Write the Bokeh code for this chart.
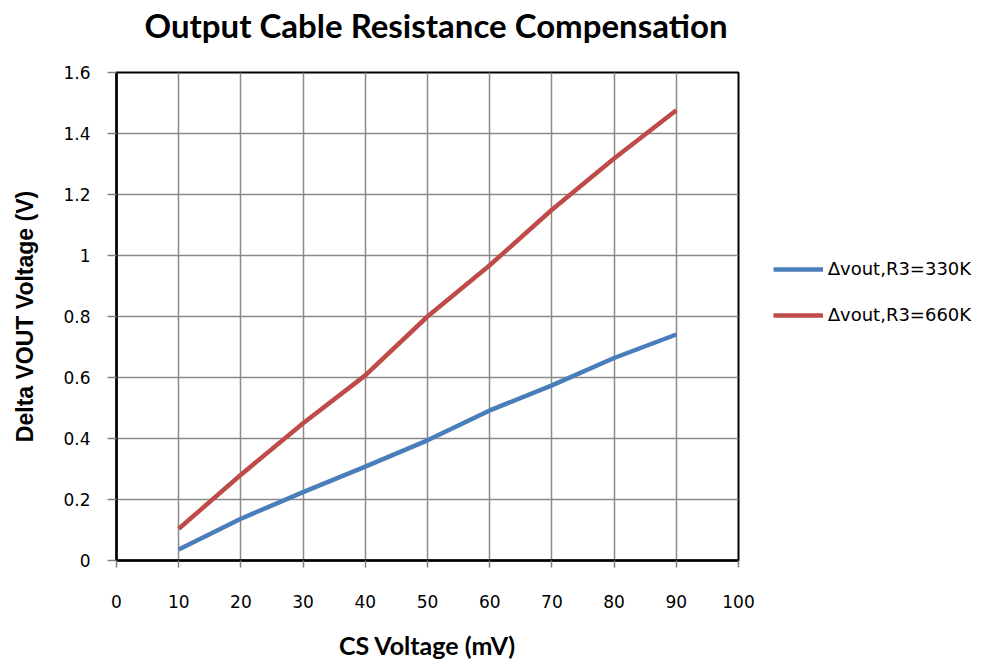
from bokeh.plotting import figure
from bokeh.layouts import column
from bokeh.models import Legend, LegendItem, Range1d, FixedTicker
from bokeh.core.properties import value
from bokeh.embed import file_html
from bokeh.resources import INLINE

cs_mv = [10, 20, 30, 40, 50, 60, 70, 80, 90]
dv_330k = [0.036, 0.137, 0.224, 0.308, 0.394, 0.492, 0.574, 0.664, 0.741]
dv_660k = [0.104, 0.281, 0.450, 0.607, 0.800, 0.968, 1.150, 1.318, 1.476]
x_ticks = [0, 10, 20, 30, 40, 50, 60, 70, 80, 90, 100]
y_ticks = [0, 0.2, 0.4, 0.6, 0.8, 1.0, 1.2, 1.4, 1.6]
labels = ["\u2206vout,R3=330K", "\u2206vout,R3=660K"]
title_text = "Output Cable Resistance Compensation"

HEAD = "Lato"
TICK = "DejaVu Sans"
W = 985
TITLE_H = 50

# --- title strip (pixel ranges; its frame is aligned with the chart frame) ---
t = figure(width=W, height=TITLE_H, output_backend="svg", toolbar_location=None,
           x_range=Range1d(0, W), y_range=Range1d(0, TITLE_H),
           x_axis_location=None, y_axis_location=None, min_border=0)
t.frame_width = W
t.frame_height = TITLE_H
t.grid.visible = False
t.outline_line_color = None
t.background_fill_color = "white"
t.border_fill_color = "white"
t.text(x=[28], y=[TITLE_H - 24], text=[title_text],
       text_font=value(HEAD), text_font_size="33px", text_font_style="bold",
       text_color="black", text_align="left", text_baseline="middle")

# --- main chart ---
p = figure(width=W, height=647 - TITLE_H, output_backend="svg", toolbar_location=None,
           x_range=Range1d(0, 100), y_range=Range1d(0, 1.6))
p.frame_width = 622
p.frame_height = 488
p.min_border_left = 116
p.min_border_right = 247
p.min_border_top = 72 - TITLE_H
p.min_border_bottom = 0

p.background_fill_color = "white"
p.border_fill_color = "white"
p.outline_line_color = "black"
p.outline_line_width = 2

p.xaxis.ticker = FixedTicker(ticks=x_ticks)
p.yaxis.ticker = FixedTicker(ticks=y_ticks)
p.yaxis.major_label_overrides = {0: "0", 1.0: "1"}
for ax in (p.xaxis[0], p.yaxis[0]):
    ax.axis_line_color = "black"
    ax.axis_line_width = 2.5
    ax.major_tick_line_color = "#808080"
    ax.major_tick_line_width = 1.5
    ax.major_tick_in = 0
    ax.minor_tick_line_color = None
    ax.major_label_text_font = TICK
    ax.major_label_text_font_size = "17px"
    ax.major_label_text_color = "black"
    ax.axis_label_text_color = "black"
    ax.axis_label_text_font_style = "bold"

p.xaxis.major_tick_out = 7
p.yaxis.major_tick_out = 9
p.xaxis.axis_label = "CS Voltage (mV)"
p.xaxis.axis_label_text_font = HEAD
p.xaxis.axis_label_text_font_size = "25px"
p.yaxis.axis_label = "Delta VOUT Voltage (V)"
p.yaxis.axis_label_text_font = "Liberation Sans"
p.yaxis.axis_label_text_font_size = "23px"
p.xaxis.major_label_standoff = 27
p.xaxis.axis_label_standoff = 19
p.yaxis.major_label_standoff = 17
p.yaxis.axis_label_standoff = 22

p.grid.grid_line_color = "#8a8a8a"
p.grid.grid_line_width = 1.5
p.xgrid.ticker = FixedTicker(ticks=x_ticks)
p.ygrid.ticker = FixedTicker(ticks=y_ticks)

r1 = p.line(cs_mv, dv_330k, line_color="#4A7EBB", line_width=4.5)
r2 = p.line(cs_mv, dv_660k, line_color="#BE4B48", line_width=4.5)

legend = Legend(items=[LegendItem(label=labels[0], renderers=[r1]),
                       LegendItem(label=labels[1], renderers=[r2])],
                location=(35, 235))
legend.border_line_color = None
legend.background_fill_alpha = 0
legend.margin = 0
legend.label_text_font = TICK
legend.label_text_font_size = "18px"
legend.label_text_color = "black"
legend.glyph_width = 50
legend.glyph_height = 20
legend.label_height = 20
legend.spacing = 25
legend.padding = 10
legend.label_standoff = 5
p.add_layout(legend, "right")

layout = column(t, p, spacing=0)
open("out.html", "w").write(file_html(layout, INLINE))
